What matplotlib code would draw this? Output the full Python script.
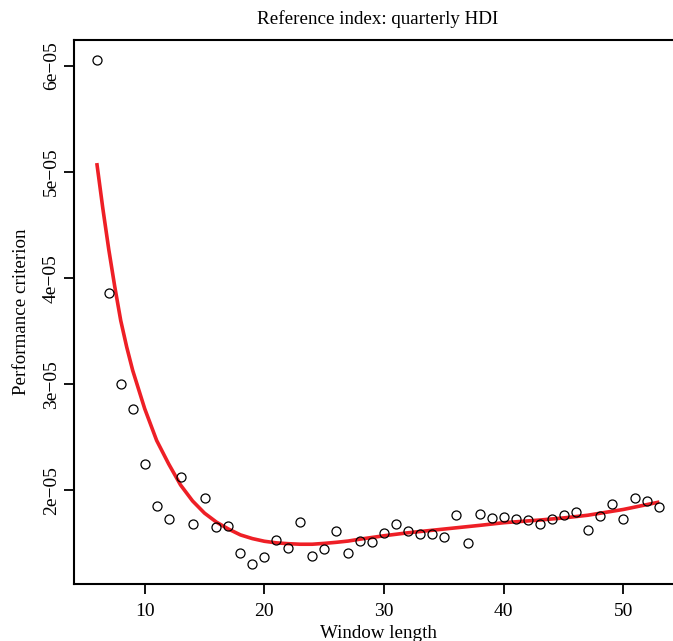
import matplotlib
matplotlib.use("Agg")
import matplotlib.pyplot as plt
from matplotlib.ticker import FixedLocator, FixedFormatter

# Performance criterion per window length (points)
window = list(range(6, 54))
criterion = [6.06, 3.86, 3.00, 2.77, 2.25, 1.85, 1.73, 2.13, 1.68, 1.93,
             1.65, 1.66, 1.41, 1.305, 1.37, 1.53, 1.46, 1.70, 1.38, 1.45,
             1.62, 1.41, 1.52, 1.51, 1.60, 1.68, 1.62, 1.585, 1.585, 1.56,
             1.77, 1.50, 1.78, 1.74, 1.75, 1.73, 1.72, 1.68, 1.73, 1.77,
             1.80, 1.63, 1.76, 1.87, 1.73, 1.93, 1.90, 1.84]

# Smoothed fit (red line)
fit_x = [6, 6.5, 7, 7.5, 8, 8.5, 9, 10, 11, 12, 13, 14, 15, 16, 17, 18, 19,
         20, 21, 22, 23, 24, 25, 26, 27, 28, 29, 30, 32, 35, 38, 40, 43, 45,
         47, 50, 53]
fit_y = [5.085, 4.66, 4.27, 3.92, 3.60, 3.35, 3.13, 2.77, 2.47, 2.25, 2.05,
         1.90, 1.785, 1.70, 1.635, 1.58, 1.545, 1.52, 1.505, 1.497, 1.492,
         1.492, 1.50, 1.51, 1.522, 1.54, 1.556, 1.572, 1.60, 1.635, 1.67,
         1.695, 1.72, 1.74, 1.765, 1.82, 1.89]

ytick_vals = [2, 3, 4, 5, 6]
ytick_labels = ["2e\u221205", "3e\u221205", "4e\u221205", "5e\u221205", "6e\u221205"]
xtick_vals = [10, 20, 30, 40, 50]

plt.rcParams['font.family'] = ['Liberation Serif', 'DejaVu Serif']

fig = plt.figure(figsize=(6.73, 6.41), dpi=100)
ax = fig.add_axes([0.1104, 0.0889, 0.9028, 0.8487])

ax.plot(fit_x, [v * 1e-5 for v in fit_y], color='#ee1f26',
        linewidth=2.6, solid_capstyle='butt', solid_joinstyle='round', zorder=2)
ax.plot(window, [v * 1e-5 for v in criterion], linestyle='none', marker='o',
        markersize=6.5, markerfacecolor='none', markeredgecolor='black',
        markeredgewidth=0.9, zorder=3)

ax.set_xlim(4.12, 54.88)
ax.set_ylim(1.117e-5, 6.245e-5)

ax.xaxis.set_major_locator(FixedLocator(xtick_vals))
ax.yaxis.set_major_locator(FixedLocator([v * 1e-5 for v in ytick_vals]))
ax.yaxis.set_major_formatter(FixedFormatter(ytick_labels))
for lab in ax.get_yticklabels():
    lab.set_rotation(90)
    lab.set_va('center')

ax.tick_params(axis='both', direction='out', length=7.3, width=1.3,
               labelsize=14)
ax.tick_params(axis='x', pad=6.5)
ax.tick_params(axis='y', pad=3)
for s in ax.spines.values():
    s.set_linewidth(1.5)

ax.set_xlabel('Window length', fontsize=13.7, labelpad=3.5)
ax.set_ylabel('Performance criterion', fontsize=13.7, labelpad=9.5)
ax.set_title('Reference index: quarterly HDI', fontsize=13.7, pad=11.5)

fig.savefig('out.png', dpi=100)
